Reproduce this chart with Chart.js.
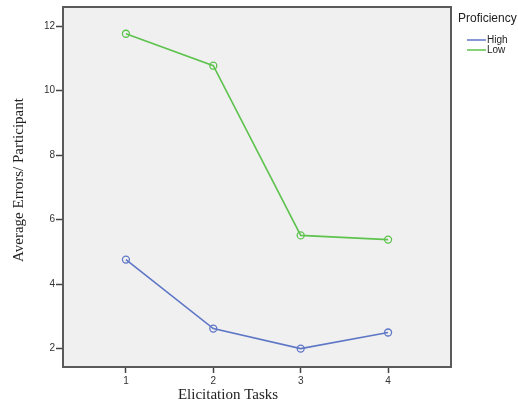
<!DOCTYPE html>
<html>
<head>
<meta charset="utf-8">
<script src="https://cdn.jsdelivr.net/npm/chart.js@4.4.1/dist/chart.umd.min.js"></script>
<style>
  html, body { margin: 0; padding: 0; background: #ffffff; }
  #wrap { width: 518px; height: 406px; }
</style>
</head>
<body>
<div id="wrap"><canvas id="errChart" width="518" height="406"></canvas></div>
<script>
/* ---------- Data ---------- */
const tasks = [1, 2, 3, 4];
const highErrors = [4.76, 2.62, 2.0, 2.5];
const lowErrors = [11.76, 10.77, 5.51, 5.38];
const yTicks = [2, 4, 6, 8, 10, 12];
const seriesNames = ["High", "Low"];
const seriesColors = ["#5e77c6", "#5dc34d"];

function toPoints(vals) {
    return tasks.map((t, i) => ({ x: t, y: vals[i] }));
}

/* ---------- Plot frame + legend + axis titles ---------- */
const frame = {
    id: "frame",
    beforeDatasetsDraw(chart) {
        const { ctx, chartArea: a } = chart;
        ctx.save();
        ctx.fillStyle = "#f0f0f0";
        ctx.fillRect(a.left, a.top, a.right - a.left, a.bottom - a.top);
        ctx.restore();
    },
    afterDatasetsDraw(chart) {
        const { ctx, chartArea: a } = chart;
        ctx.save();
        ctx.strokeStyle = "#5a5a5a";
        ctx.lineWidth = 2;
        ctx.strokeRect(a.left, a.top, a.right - a.left, a.bottom - a.top);
        ctx.restore();
    },
    afterDraw(chart) {
        const { ctx } = chart;
        ctx.save();
        ctx.fillStyle = "#222";
        ctx.textBaseline = "middle";

        // legend
        ctx.font = "12px 'Liberation Sans', Arial, sans-serif";
        ctx.textAlign = "left";
        ctx.fillText("Proficiency", 458, 19);
        ctx.font = "10px 'Liberation Sans', Arial, sans-serif";
        chart.data.datasets.forEach((ds, i) => {
            const y = 40 + i * 10;
            ctx.strokeStyle = ds.borderColor;
            ctx.lineWidth = 1.5;
            ctx.beginPath();
            ctx.moveTo(467, y);
            ctx.lineTo(486, y);
            ctx.stroke();
            ctx.fillText(ds.label, 487, y);
        });

        // axis titles
        ctx.font = "15px 'Liberation Serif', 'Times New Roman', serif";
        ctx.textAlign = "center";
        ctx.fillText("Elicitation Tasks", 228, 395);
        ctx.translate(19, 180);
        ctx.rotate(-Math.PI / 2);
        ctx.fillText("Average Errors/ Participant", 0, 0);
        ctx.restore();
    }
};

/* ---------- Chart ---------- */
const ctx = document.getElementById("errChart");

new Chart(ctx, {
    type: "line",
    data: {
        datasets: [
            {
                label: seriesNames[0],
                data: toPoints(highErrors),
                borderColor: seriesColors[0],
                backgroundColor: "rgba(0,0,0,0)",
                borderWidth: 1.6,
                pointRadius: 3.5,
                pointBorderWidth: 1.3,
                pointBackgroundColor: "rgba(0,0,0,0)",
                tension: 0
            },
            {
                label: seriesNames[1],
                data: toPoints(lowErrors),
                borderColor: seriesColors[1],
                backgroundColor: "rgba(0,0,0,0)",
                borderWidth: 1.6,
                pointRadius: 3.5,
                pointBorderWidth: 1.3,
                pointBackgroundColor: "rgba(0,0,0,0)",
                tension: 0
            }
        ]
    },
    options: {
        responsive: false,
        animation: false,
        layout: { padding: { left: 0, top: 7, right: 67, bottom: 0 } },
        plugins: {
            legend: { display: false },
            tooltip: { enabled: false }
        },
        scales: {
            x: {
                type: "linear",
                min: 0.28,
                max: 4.72,
                afterBuildTicks: (s) => { s.ticks = tasks.map(v => ({ value: v })); },
                afterFit: (s) => { s.height = 39; },
                border: { display: false },
                grid: {
                    drawOnChartArea: false,
                    drawTicks: true,
                    tickLength: 6,
                    tickColor: "#444",
                    tickWidth: 1.5
                },
                ticks: {
                    color: "#333",
                    padding: 2,
                    font: { family: "'Liberation Sans', Arial, sans-serif", size: 10 },
                    maxRotation: 0
                }
            },
            y: {
                min: 1.43,
                max: 12.59,
                afterBuildTicks: (s) => { s.ticks = yTicks.map(v => ({ value: v })); },
                afterFit: (s) => { s.width = 63; },
                border: { display: false },
                grid: {
                    drawOnChartArea: false,
                    drawTicks: true,
                    tickLength: 7,
                    tickColor: "#444",
                    tickWidth: 1.5
                },
                ticks: {
                    color: "#333",
                    padding: 1,
                    font: { family: "'Liberation Sans', Arial, sans-serif", size: 10 }
                }
            }
        }
    },
    plugins: [frame]
});
</script>
</body>
</html>
